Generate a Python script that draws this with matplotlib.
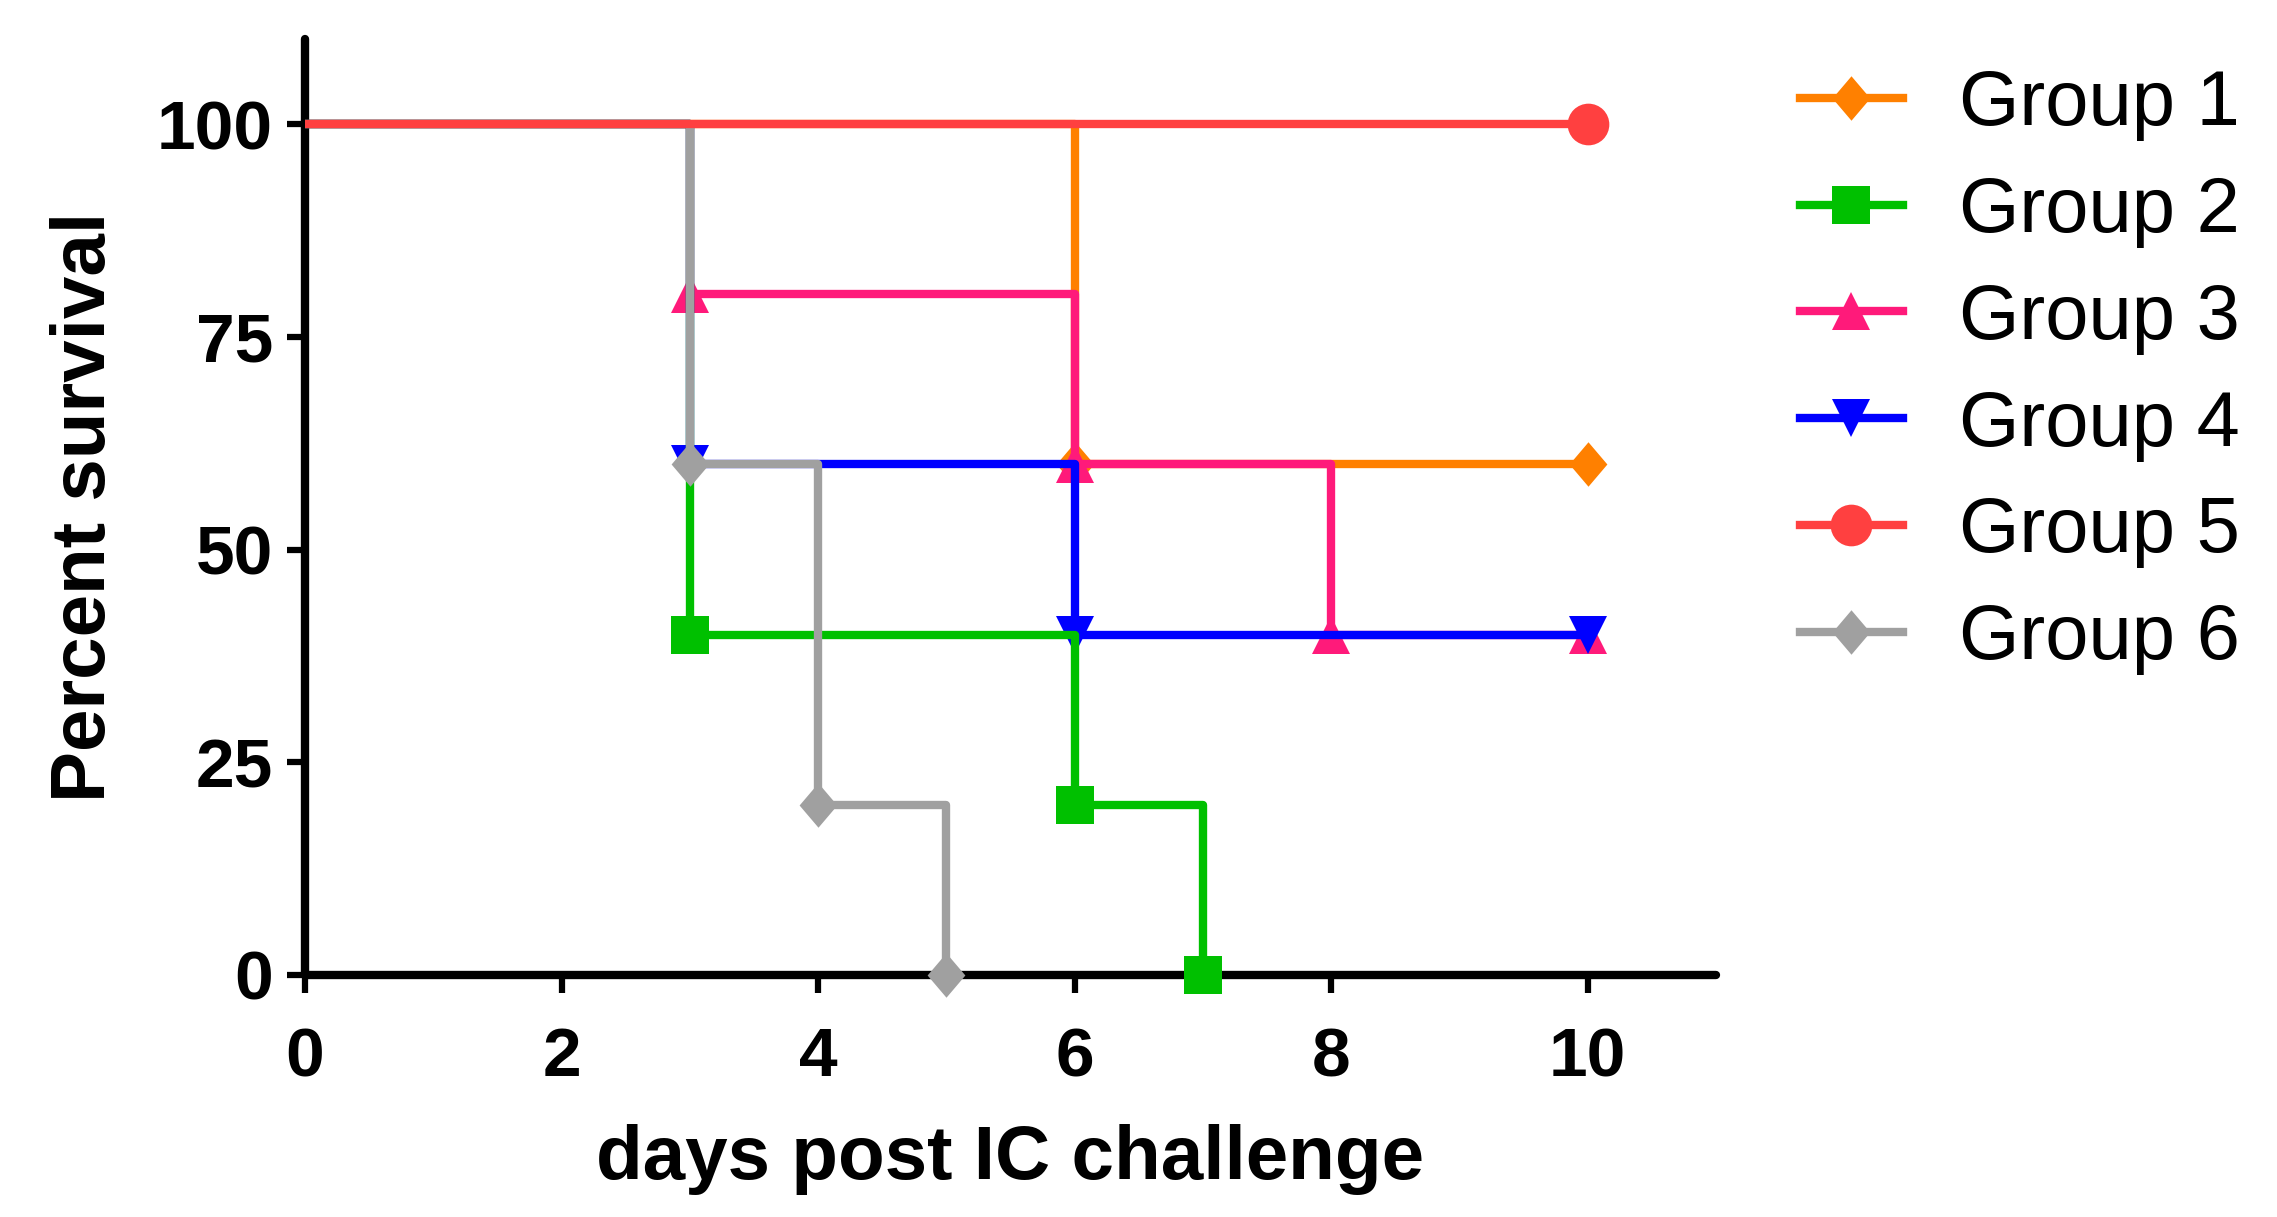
import matplotlib
matplotlib.use("Agg")
import matplotlib.pyplot as plt
from matplotlib.path import Path
from matplotlib.lines import Line2D

plt.rcParams['font.family'] = ['Liberation Sans', 'DejaVu Sans']

# ---- data ----
group_names = ["Group 1", "Group 2", "Group 3", "Group 4", "Group 5", "Group 6"]
g1_days = [0, 6, 10]
g1_surv = [100, 60, 60]
g2_days = [0, 3, 6, 7]
g2_surv = [100, 40, 20, 0]
g3_days = [0, 3, 6, 8, 10]
g3_surv = [100, 80, 60, 40, 40]
g4_days = [0, 3, 6, 10]
g4_surv = [100, 60, 40, 40]
g5_days = [0, 10]
g5_surv = [100, 100]
g6_days = [0, 3, 4, 5]
g6_surv = [100, 60, 20, 0]
x_ticks = [0, 2, 4, 6, 8, 10]
y_ticks = [0, 25, 50, 75, 100]

diamond = Path([(0, 1), (0.85, 0), (0, -1), (-0.85, 0), (0, 1)],
               [Path.MOVETO, Path.LINETO, Path.LINETO, Path.LINETO, Path.CLOSEPOLY])

groups = [
    (g1_days, g1_surv, "#FF8000", diamond, 32, 1),
    (g2_days, g2_surv, "#00C000", "s", 28, 4),
    (g3_days, g3_surv, "#FF1A7A", "^", 28, 2),
    (g4_days, g4_surv, "#0000FF", "v", 28, 3),
    (g5_days, g5_surv, "#FF4040", "o", 30, 6),
    (g6_days, g6_surv, "#A0A0A0", diamond, 32, 5),
]

W, H = 2277, 1217
fig = plt.figure(figsize=(W / 100, H / 100), dpi=100)
ax = fig.add_axes([305 / W, 1 - 975 / H, (1716 - 305) / W, (975 - 39) / H])

lw = 6
handles = []
for (d, s, c, m, ms, z), name in zip(groups, group_names):
    ax.step(d, s, where="post", color=c, lw=lw, zorder=z, clip_on=False,
            solid_capstyle="butt")
    ax.plot(d[1:], s[1:], linestyle="none", marker=m, markersize=ms, color=c,
            markeredgewidth=0, zorder=z + 0.5, clip_on=False)
    handles.append(Line2D([], [], color=c, lw=lw, marker=m, markersize=ms,
                          markeredgewidth=0, label=name))

ax.set_xlim(0, 11)
ax.set_ylim(0, 110)
ax.set_xticks(x_ticks)
ax.set_yticks(y_ticks)
for sp in ["top", "right"]:
    ax.spines[sp].set_visible(False)
for sp in ["left", "bottom"]:
    ax.spines[sp].set_linewidth(6)
    ax.spines[sp].set_capstyle("round")
ax.tick_params(axis="both", length=13, width=4.5, direction="out",
               labelsize=50, colors="black")
ax.tick_params(axis="x", pad=24)
ax.tick_params(axis="y", pad=10)
for lab in ax.get_xticklabels() + ax.get_yticklabels():
    lab.set_fontweight("bold")

ax.set_xlabel("days post IC challenge", fontsize=55, fontweight="bold", labelpad=24)
ax.set_ylabel("Percent survival", fontsize=55, fontweight="bold", labelpad=26)

fig.legend(handles=handles, loc="upper left",
           bbox_to_anchor=(1800 / W, 1 - 68 / H), bbox_transform=fig.transFigure,
           frameon=False, fontsize=56, handlelength=1.32, handletextpad=0.72,
           labelspacing=0.435, borderpad=0, borderaxespad=0)

fig.savefig("out.png", dpi=100, facecolor="white")
